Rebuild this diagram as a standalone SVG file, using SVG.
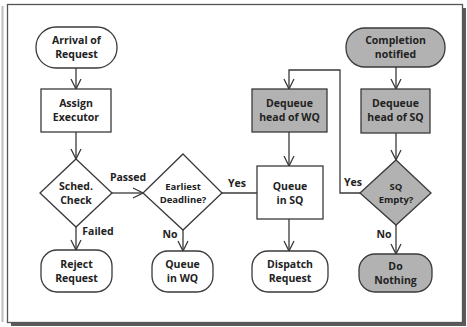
<svg xmlns="http://www.w3.org/2000/svg" width="467" height="327" viewBox="0 0 467 327">
  <style>
    .box { fill: #ffffff; stroke: #3a3a3a; stroke-width: 1.3; }
    .grey { fill: #b2b2b2; }
    .edge { fill: none; stroke: #3a3a3a; stroke-width: 1.3; }
    text { font-family: "Open Sans", "DejaVu Sans", sans-serif; font-weight: bold; font-size: 10.5px; fill: #222; text-anchor: middle; }
    .small { font-size: 9.5px; }
  </style>
  <defs>
    <marker id="vee" viewBox="0 0 12 12" refX="11" refY="6" markerWidth="12" markerHeight="12" markerUnits="userSpaceOnUse" orient="auto">
      <path d="M1,1 L11,6 L1,11" fill="none" stroke="#3a3a3a" stroke-width="1.3"/>
    </marker>
  </defs>

  <!-- page frame with drop shadow -->
  <rect x="0" y="0" width="467" height="327" fill="#ffffff"/>
  <line x1="2.5" y1="6" x2="2.5" y2="322" stroke="#bdbdbd" stroke-width="2"/>
  <rect x="11" y="8" width="455" height="318" fill="#5a5a5a"/>
  <rect x="7.5" y="4.5" width="455" height="318" fill="#ffffff" stroke="#555" stroke-width="1.3"/>

  <g id="connectors">
    <line class="edge" x1="76" y1="68" x2="76" y2="89" marker-end="url(#vee)"/>
    <line class="edge" x1="76" y1="132" x2="76" y2="159" marker-end="url(#vee)"/>
    <line class="edge" x1="112" y1="193" x2="143" y2="193" marker-end="url(#vee)"/>
    <line class="edge" x1="76" y1="227" x2="76" y2="250" marker-end="url(#vee)"/>
    <line class="edge" x1="183" y1="230" x2="183" y2="251" marker-end="url(#vee)"/>
    <line class="edge" x1="222" y1="193" x2="257" y2="193"/>
    <line class="edge" x1="289" y1="132" x2="289" y2="166" marker-end="url(#vee)"/>
    <line class="edge" x1="289" y1="219" x2="289" y2="251" marker-end="url(#vee)"/>
    <line class="edge" x1="396" y1="67" x2="396" y2="89" marker-end="url(#vee)"/>
    <line class="edge" x1="396" y1="133" x2="396" y2="160" marker-end="url(#vee)"/>
    <line class="edge" x1="396" y1="225" x2="396" y2="254" marker-end="url(#vee)"/>
    <polyline class="edge" points="360,193 340,193 340,70 289,70 289,89" marker-end="url(#vee)"/>
    <text x="128" y="181">Passed</text>
    <text x="98" y="235">Failed</text>
    <text x="170" y="238">No</text>
    <text x="237" y="187">Yes</text>
    <text x="353" y="186">Yes</text>
    <text x="384" y="238">No</text>
  </g>

  <g id="arrival">
    <rect class="box" x="36" y="27" width="81" height="41" rx="20"/>
    <text x="76.5" y="44">Arrival of</text>
    <text x="76.5" y="58">Request</text>
  </g>
  <g id="assign">
    <rect class="box" x="41" y="89" width="70" height="43"/>
    <text x="76" y="107">Assign</text>
    <text x="76" y="121">Executor</text>
  </g>
  <g id="sched-check">
    <polygon class="box" points="76,159 112,193 76,227 40,193"/>
    <text x="76" y="190">Sched.</text>
    <text x="76" y="204">Check</text>
  </g>
  <g id="reject">
    <rect class="box" x="41" y="250" width="71" height="42" rx="16"/>
    <text x="76.5" y="268">Reject</text>
    <text x="76.5" y="282">Request</text>
  </g>
  <g id="earliest">
    <polygon class="box" points="183,154 222,193 183,230 143,193"/>
    <text class="small" x="183" y="190">Earliest</text>
    <text class="small" x="183" y="203">Deadline?</text>
  </g>
  <g id="queue-wq">
    <rect class="box" x="152" y="251" width="61" height="41" rx="16"/>
    <text x="182.5" y="268">Queue</text>
    <text x="182.5" y="282">in WQ</text>
  </g>
  <g id="dequeue-wq">
    <rect class="box grey" x="252" y="89" width="75" height="43"/>
    <text x="289.5" y="107">Dequeue</text>
    <text x="289.5" y="121">head of WQ</text>
  </g>
  <g id="queue-sq">
    <rect class="box" x="257" y="166" width="66" height="53"/>
    <text x="290" y="190">Queue</text>
    <text x="290" y="204">in SQ</text>
  </g>
  <g id="dispatch">
    <rect class="box" x="252" y="251" width="76" height="41" rx="16"/>
    <text x="290" y="268">Dispatch</text>
    <text x="290" y="282">Request</text>
  </g>
  <g id="completion">
    <rect class="box grey" x="346" y="28" width="99" height="39" rx="19"/>
    <text x="395.5" y="44">Completion</text>
    <text x="395.5" y="58">notified</text>
  </g>
  <g id="dequeue-sq">
    <rect class="box grey" x="361" y="89" width="69" height="44"/>
    <text x="395.5" y="107">Dequeue</text>
    <text x="395.5" y="121">head of SQ</text>
  </g>
  <g id="sq-empty">
    <polygon class="box grey" points="396,160 431,193 396,225 360,193"/>
    <text class="small" x="396" y="190">SQ</text>
    <text class="small" x="396" y="203">Empty?</text>
  </g>
  <g id="do-nothing">
    <rect class="box grey" x="359" y="254" width="73" height="38" rx="16"/>
    <text x="395.5" y="270">Do</text>
    <text x="395.5" y="284">Nothing</text>
  </g>
</svg>
